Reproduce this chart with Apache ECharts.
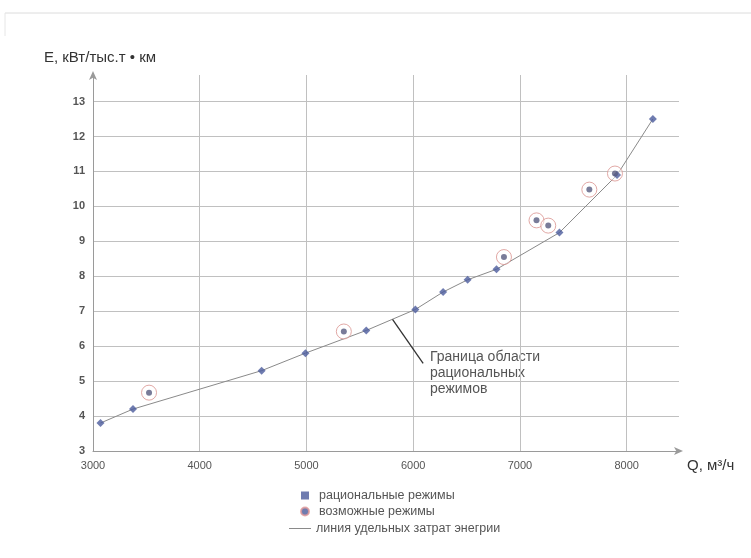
<!DOCTYPE html>
<html>
<head>
<meta charset="utf-8">
<script src="https://cdn.jsdelivr.net/npm/echarts@6/dist/echarts.min.js"></script>
<style>
  html, body { margin: 0; padding: 0; background: #ffffff; }
  #chart { width: 751px; height: 558px; }
</style>
</head>
<body>
<div id="chart"></div>
<script>
// Flow rate Q (m³/h) and specific energy E (kWh per thousand t·km)
const rationalQ = [3070, 3375, 4580, 4990, 5560, 6020, 6280, 6510, 6780, 7370, 7910, 8245];
const rationalE = [3.80, 4.20, 5.30, 5.80, 6.45, 7.05, 7.55, 7.90, 8.20, 9.25, 10.90, 12.50];

const possibleQ = [3525, 5350, 6850, 7155, 7265, 7650, 7890];
const possibleE = [4.67, 6.42, 8.55, 9.60, 9.45, 10.48, 10.94];

// Leader line for the boundary note: from the curve to the text
const noteFrom = [5806, 6.77];
const noteTo = [6093, 5.51];

const xTicks = { min: 3000, max: 8490, step: 1000 };
const yTicks = { min: 3, max: 13.76, step: 1 };

const nameRational = 'рациональные режимы';
const namePossible = 'возможные режимы';
const nameLine = 'линия удельных затрат энегрии';

const pair = (xs, ys) => xs.map((x, i) => [x, ys[i]]);

const chart = echarts.init(document.getElementById('chart'), null, { renderer: 'canvas' });

const fontFamily = '"Liberation Sans", Arial, sans-serif';
const gridColor = '#c0c0c0';
const axisColor = '#9a9a9a';
const markerBlue = '#4b5b9c';

chart.setOption({
  backgroundColor: '#ffffff',
  animation: false,
  textStyle: { fontFamily },
  grid: { left: 93, right: 72, top: 75, bottom: 107, containLabel: false },
  xAxis: {
    type: 'value',
    min: xTicks.min, max: xTicks.max, interval: xTicks.step,
    name: 'Q, м³/ч',
    nameLocation: 'end',
    nameGap: 8,
    nameTextStyle: { color: '#333', fontSize: 15, verticalAlign: 'top', padding: [7, 0, 0, 0] },
    axisLine: { show: true, lineStyle: { color: axisColor, width: 1 }, symbol: ['none', 'arrow'], symbolSize: [6, 9], symbolOffset: [0, 4] },
    axisTick: { show: false },
    axisLabel: { color: '#555', fontSize: 11, margin: 9, showMaxLabel: false, formatter: v => String(v) },
    splitLine: { show: true, showMinLine: false, showMaxLine: false, lineStyle: { color: gridColor, width: 1 } }
  },
  yAxis: {
    type: 'value',
    min: yTicks.min, max: yTicks.max, interval: yTicks.step,
    name: 'E, кВт/тыс.т • км',
    nameLocation: 'end',
    nameGap: 10,
    nameTextStyle: { color: '#333', fontSize: 15, align: 'center', padding: [0, 0, 0, 14] },
    axisLine: { show: true, lineStyle: { color: axisColor, width: 1 }, symbol: ['none', 'arrow'], symbolSize: [6, 9], symbolOffset: [0, 4] },
    axisTick: { show: false },
    axisLabel: { color: '#555', fontSize: 11, fontWeight: 'bold', margin: 8, showMaxLabel: false },
    splitLine: { show: true, showMinLine: false, showMaxLine: false, lineStyle: { color: gridColor, width: 1 } }
  },
  legend: [
    {
      orient: 'vertical',
      left: 295, top: 484,
      itemWidth: 8, itemHeight: 8, itemGap: 3,
      textStyle: { color: '#555', fontSize: 12.5, padding: [0, 0, 0, 5] },
      data: [
        { name: nameRational, icon: 'rect', itemStyle: { color: markerBlue } },
        { name: namePossible, icon: 'circle', itemStyle: { color: markerBlue, borderColor: '#e39a9a', borderWidth: 2 } }
      ]
    },
    {
      orient: 'vertical',
      left: 284, top: 517,
      itemWidth: 22, itemHeight: 1,
      textStyle: { color: '#555', fontSize: 12.5 },
      data: [{ name: nameLine, icon: 'rect', itemStyle: { color: '#8a8a8a' } }]
    }
  ],
  graphic: [
    { type: 'line', shape: { x1: 5, y1: 13, x2: 751, y2: 13 }, style: { stroke: '#dcdcdc', lineWidth: 1 }, silent: true },
    { type: 'line', shape: { x1: 5, y1: 13, x2: 5, y2: 36 }, style: { stroke: '#e6e6e6', lineWidth: 1 }, silent: true },
    {
      type: 'text', left: 430, top: 349, silent: true,
      style: {
        text: 'Граница области\nрациональных\nрежимов',
        fill: '#555', font: '14px ' + fontFamily, lineHeight: 16
      }
    }
  ],
  series: [
    {
      name: nameLine,
      type: 'line',
      data: pair(rationalQ, rationalE),
      symbol: 'none',
      lineStyle: { color: '#8a8a8a', width: 1 },
      itemStyle: { color: '#8a8a8a' },
      z: 2,
      markLine: {
        silent: true,
        symbol: 'none',
        label: { show: false },
        lineStyle: { color: '#333', width: 1.3, type: 'solid' },
        data: [[{ coord: noteFrom }, { coord: noteTo }]]
      }
    },
    {
      name: nameRational,
      type: 'scatter',
      data: pair(rationalQ, rationalE),
      symbol: 'diamond',
      symbolSize: 8,
      itemStyle: { color: markerBlue },
      z: 4
    },
    {
      name: namePossible,
      type: 'scatter',
      data: pair(possibleQ, possibleE),
      symbol: 'circle',
      symbolSize: 15,
      itemStyle: { color: 'rgba(255,255,255,0.6)', borderColor: '#d9928f', borderWidth: 1 },
      z: 3
    },
    {
      type: 'scatter',
      data: pair(possibleQ, possibleE),
      symbol: 'circle',
      symbolSize: 6,
      itemStyle: { color: '#575b80' },
      z: 5
    }
  ]
});
</script>
</body>
</html>
